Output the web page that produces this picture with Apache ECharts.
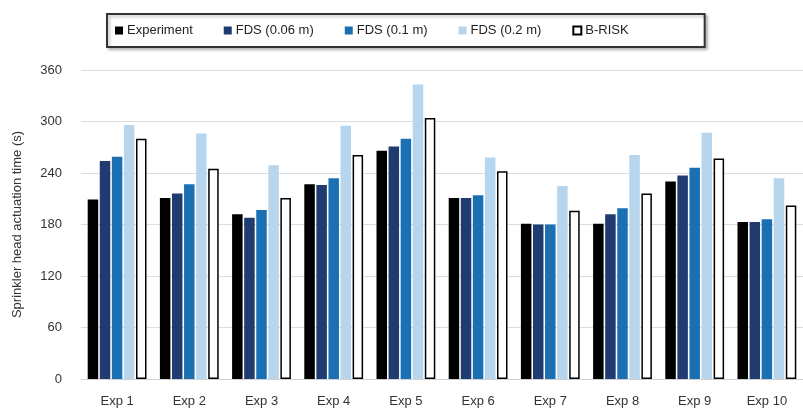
<!DOCTYPE html>
<html>
<head>
<meta charset="utf-8">
<script src="https://cdn.jsdelivr.net/npm/echarts@6/dist/echarts.min.js"></script>
<style>
  html, body { margin: 0; padding: 0; background: #fff; }
  #chart { width: 803px; height: 414px; }
</style>
</head>
<body>
<div id="chart"></div>
<script>
// categories and values (seconds)
const categories = ['Exp 1', 'Exp 2', 'Exp 3', 'Exp 4', 'Exp 5', 'Exp 6', 'Exp 7', 'Exp 8', 'Exp 9', 'Exp 10']
const experiment = [209, 211, 192, 227, 266, 211, 181, 181, 230, 183]
const fds006 = [254, 216, 188, 226, 271, 211, 180, 192, 237, 183]
const fds01 = [259, 227, 197, 234, 280, 214, 180, 199, 246, 186]
const fds02 = [296, 286, 249, 295, 343, 258, 225, 261, 287, 234]
const brisk = [280, 245, 211, 261, 304, 242, 196, 216, 257, 202]
const yTicks = { min: 0, max: 360, interval: 60 }

const chart = echarts.init(document.getElementById('chart'), null, { renderer: 'canvas' })

// 柱子样式
const barSeries = (name, data, color, border) => ({
  name,
  type: 'bar',
  data,
  barWidth: 10.5,
  barGap: '15%',
  itemStyle: {
    color,
    borderColor: border || color,
    borderWidth: border ? 1.5 : 0
  }
})

chart.setOption({
  animation: false,
  textStyle: {
    fontFamily: '"Liberation Sans", Arial, sans-serif'
  },
  legend: {
    left: 107,
    top: 14,
    padding: [10, 76, 10, 8],
    itemGap: 31,
    itemWidth: 8,
    itemHeight: 8,
    icon: 'rect',
    borderColor: '#333',
    borderWidth: 2,
    shadowColor: 'rgba(0,0,0,0.25)',
    shadowBlur: 3,
    shadowOffsetX: 2,
    shadowOffsetY: 2,
    backgroundColor: '#fff',
    textStyle: { fontSize: 13, color: '#222', padding: [0, 0, 0, -1] },
    data: ['Experiment', 'FDS (0.06 m)', 'FDS (0.1 m)', 'FDS (0.2 m)', 'B-RISK']
  },
  grid: {
    left: 81,
    width: 728,
    top: 70,
    bottom: 35
  },
  xAxis: {
    type: 'category',
    data: categories,
    axisTick: { show: false },
    axisLine: { lineStyle: { color: '#d0d0d0', width: 1 } },
    axisLabel: { fontSize: 13, color: '#333', margin: 16 }
  },
  yAxis: {
    type: 'value',
    min: yTicks.min,
    max: yTicks.max,
    interval: yTicks.interval,
    name: 'Sprinkler head actuation time (s)',
    nameLocation: 'middle',
    nameRotate: 90,
    nameGap: 57,
    nameTextStyle: { fontSize: 13, color: '#333' },
    axisLine: { show: false },
    axisTick: { show: false },
    axisLabel: { fontSize: 13, color: '#333', margin: 19 },
    splitLine: { lineStyle: { color: '#dcdcdc', width: 1.2 } }
  },
  series: [
    barSeries('Experiment', experiment, '#000000'),
    barSeries('FDS (0.06 m)', fds006, '#1f3b70'),
    barSeries('FDS (0.1 m)', fds01, '#1b70b4'),
    barSeries('FDS (0.2 m)', fds02, '#b7d5ec'),
    barSeries('B-RISK', brisk, '#ffffff', '#000000')
  ]
})
</script>
</body>
</html>
